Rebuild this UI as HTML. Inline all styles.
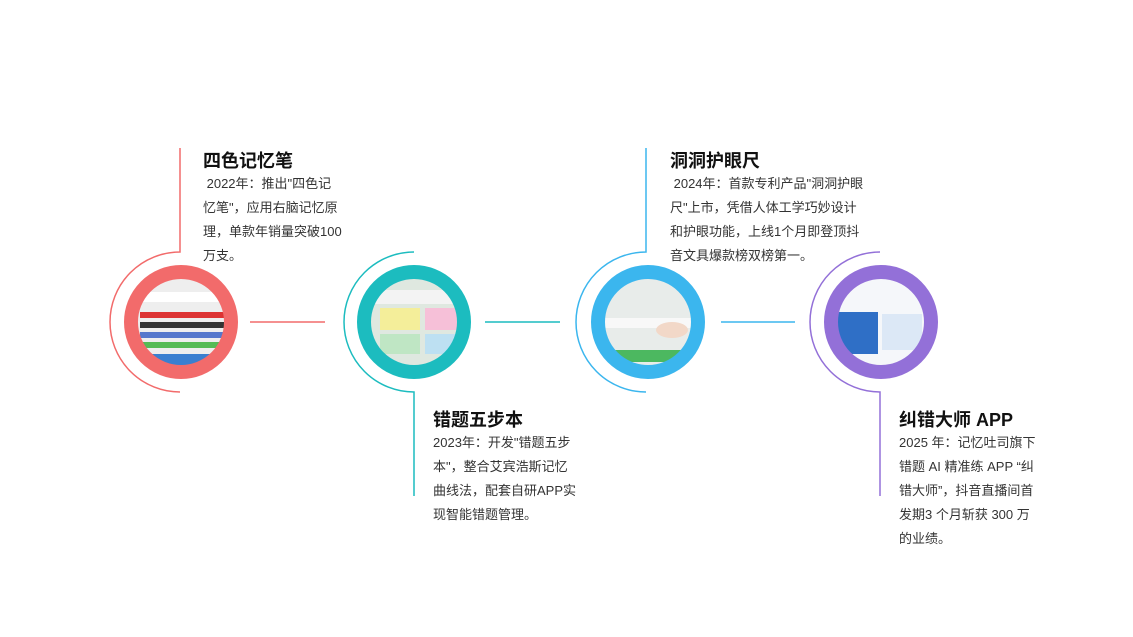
<!DOCTYPE html>
<html><head><meta charset="utf-8"><style>
body{margin:0;background:#fff;width:1133px;height:637px;overflow:hidden;position:relative;font-family:"Liberation Sans","Noto Sans CJK SC",sans-serif;color:#222}
.t{position:absolute;font-size:18px;font-weight:bold;color:#111;white-space:nowrap}
.b{position:absolute;font-size:13px;line-height:24px;color:#333;white-space:nowrap}
</style></head><body>
<svg width="1133" height="637" style="position:absolute;left:0;top:0">
<defs>
<clipPath id="c1"><circle cx="181" cy="322" r="44"/></clipPath>
<clipPath id="c2"><circle cx="414" cy="322" r="44"/></clipPath>
<clipPath id="c3"><circle cx="648" cy="322" r="44"/></clipPath>
<clipPath id="c4"><circle cx="881" cy="322" r="44"/></clipPath>
</defs>
<g fill="none" stroke-width="1.5">
<path d="M180 148 V252 A70 70 0 0 0 180 392" stroke="#f26b6b"/>
<path d="M414 252 A70 70 0 0 0 414 392 V496" stroke="#1cbcbf"/>
<path d="M646 148 V252 A70 70 0 0 0 646 392" stroke="#3bb6ee"/>
<path d="M880 252 A70 70 0 0 0 880 392 V496" stroke="#9370d8"/>
<line x1="250" y1="322" x2="325" y2="322" stroke="#f26b6b"/>
<line x1="485" y1="322" x2="560" y2="322" stroke="#1cbcbf"/>
<line x1="721" y1="322" x2="795" y2="322" stroke="#3bb6ee"/>
</g>
<g clip-path="url(#c1)"><rect x="130" y="270" width="110" height="110" fill="#eee"/>
<rect x="140" y="312" width="90" height="6" fill="#d33"/><rect x="140" y="322" width="90" height="6" fill="#333"/><rect x="140" y="332" width="90" height="6" fill="#57c"/><rect x="140" y="342" width="90" height="6" fill="#5b5"/><rect x="130" y="354" width="110" height="12" fill="#3a7fd0"/><rect x="130" y="292" width="110" height="10" fill="#fff"/></g>
<g clip-path="url(#c2)"><rect x="360" y="270" width="110" height="110" fill="#dfe8e0"/><rect x="380" y="308" width="40" height="22" fill="#f4ee9a"/><rect x="425" y="308" width="35" height="22" fill="#f6c0d8"/><rect x="380" y="334" width="40" height="20" fill="#bfe6c4"/><rect x="425" y="334" width="35" height="20" fill="#bde0f2"/><rect x="360" y="290" width="110" height="14" fill="#f3f3f3"/></g>
<g clip-path="url(#c3)"><rect x="600" y="270" width="110" height="110" fill="#e8ecea"/><rect x="600" y="318" width="110" height="10" fill="#f8f8f8"/><rect x="600" y="350" width="110" height="12" fill="#4cb860"/><ellipse cx="672" cy="330" rx="16" ry="8" fill="#f2d8c8"/></g>
<g clip-path="url(#c4)"><rect x="830" y="270" width="110" height="110" fill="#f5f7fa"/><rect x="838" y="312" width="40" height="42" fill="#2f6fc6"/><rect x="882" y="314" width="40" height="36" fill="#dce8f6"/></g>
<g fill="none" stroke-width="14">
<circle cx="181" cy="322" r="50" stroke="#f26b6b"/>
<circle cx="414" cy="322" r="50" stroke="#1cbcbf"/>
<circle cx="648" cy="322" r="50" stroke="#3bb6ee"/>
<circle cx="881" cy="322" r="50" stroke="#9370d8"/>
</g>
</svg>
<div class="t" style="left:203px;top:147px">四色记忆笔</div>
<div class="b" style="left:203px;top:172px">&nbsp;2022年：推出"四色记<br>忆笔"，应用右脑记忆原<br>理，单款年销量突破100<br>万支。</div>
<div class="t" style="left:670px;top:147px">洞洞护眼尺</div>
<div class="b" style="left:670px;top:172px">&nbsp;2024年：首款专利产品"洞洞护眼<br>尺"上市，凭借人体工学巧妙设计<br>和护眼功能，上线1个月即登顶抖<br>音文具爆款榜双榜第一。</div>
<div class="t" style="left:433px;top:406px">错题五步本</div>
<div class="b" style="left:433px;top:431px">2023年：开发"错题五步<br>本"，整合艾宾浩斯记忆<br>曲线法，配套自研APP实<br>现智能错题管理。</div>
<div class="t" style="left:899px;top:406px">纠错大师 APP</div>
<div class="b" style="left:899px;top:431px">2025 年：记忆吐司旗下<br>错题 AI 精准练 APP “纠<br>错大师”，抖音直播间首<br>发期3 个月斩获 300 万<br>的业绩。</div>
</body></html>
